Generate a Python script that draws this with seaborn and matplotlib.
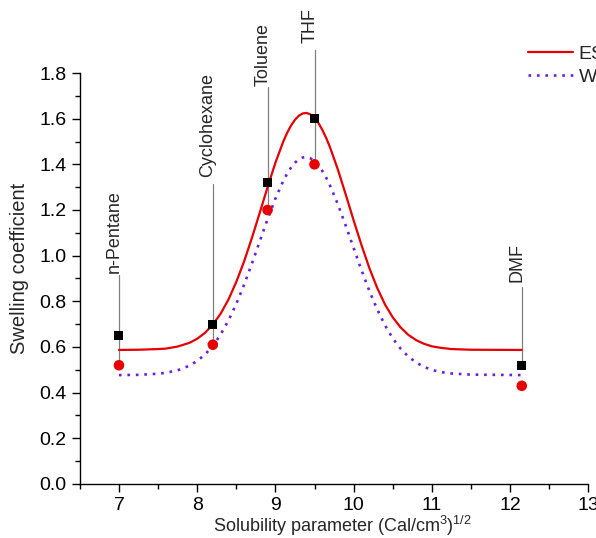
import numpy as np
import pandas as pd
import matplotlib
matplotlib.use("Agg")
import matplotlib.pyplot as plt
import seaborn as sns
from matplotlib.ticker import MultipleLocator, FormatStrFormatter

# measured points for each solvent
solvents = ["n-Pentane", "Cyclohexane", "Toluene", "THF", "DMF"]
solubility = [7.0, 8.2, 8.9, 9.5, 12.15]
swell_es = [0.65, 0.70, 1.32, 1.60, 0.52]
swell_w = [0.52, 0.61, 1.20, 1.40, 0.43]

# fitted curves
curve_x = [7.0, 7.25, 7.5, 7.6, 7.75, 7.9, 8.0, 8.1, 8.2, 8.3, 8.4, 8.5, 8.6, 8.7,
           8.8, 8.9, 9.0, 9.1, 9.15, 9.2, 9.25, 9.3, 9.35, 9.4, 9.45, 9.5, 9.55,
           9.6, 9.65, 9.7, 9.8, 9.9, 10.0, 10.1, 10.2, 10.3, 10.4, 10.5, 10.6,
           10.7, 10.8, 10.9, 11.0, 11.1, 11.25, 11.5, 12.15]
curve_es = [0.587, 0.588, 0.591, 0.593, 0.602, 0.618, 0.636, 0.662, 0.698, 0.746,
            0.808, 0.885, 0.975, 1.078, 1.188, 1.300, 1.407, 1.499, 1.538, 1.570,
            1.595, 1.613, 1.623, 1.625, 1.618, 1.603, 1.581, 1.551, 1.515, 1.473,
            1.376, 1.267, 1.155, 1.047, 0.947, 0.860, 0.787, 0.730, 0.686, 0.653,
            0.630, 0.614, 0.603, 0.597, 0.591, 0.588, 0.587]
curve_w = [0.477, 0.478, 0.483, 0.487, 0.498, 0.518, 0.539, 0.567, 0.605, 0.655,
           0.716, 0.789, 0.873, 0.966, 1.063, 1.160, 1.250, 1.327, 1.359, 1.386,
           1.407, 1.422, 1.430, 1.432, 1.426, 1.414, 1.396, 1.371, 1.341, 1.306,
           1.224, 1.131, 1.034, 0.937, 0.847, 0.766, 0.696, 0.638, 0.593, 0.558,
           0.532, 0.513, 0.500, 0.491, 0.484, 0.479, 0.477]

# leader lines and label heights for the solvent names
line_bottom = [0.52, 0.61, 1.20, 1.40, 0.52]
line_top = [0.915, 1.314, 1.739, 1.901, 0.863]
label_y = [0.924, 1.345, 1.743, 1.932, 0.885]

sns.set_theme(style="ticks")
plt.rcParams["font.family"] = ["Liberation Sans", "DejaVu Sans"]
plt.rcParams["mathtext.fontset"] = "custom"
plt.rcParams["mathtext.rm"] = "Liberation Sans"
plt.rcParams["mathtext.it"] = "Liberation Sans:italic"

fig = plt.figure(figsize=(5.96, 5.38), dpi=100)
ax = fig.add_axes([0.134, 0.1004, 0.853, 0.7639])

curves = pd.DataFrame({"x": curve_x, "ES": curve_es, "W": curve_w})
sns.lineplot(data=curves, x="x", y="ES", ax=ax, color="#e60000", lw=1.6, label="ES")
sns.lineplot(data=curves, x="x", y="W", ax=ax, color="#6a1fe0", lw=1.9,
             linestyle=(0, (1, 2.2)), label="W")

for xb, yb, yt in zip(solubility, line_bottom, line_top):
    ax.plot([xb, xb], [yb, yt], color="#808080", lw=0.9, zorder=1, clip_on=False)

pts = pd.DataFrame({"x": solubility, "es": swell_es, "w": swell_w})
sns.scatterplot(data=pts, x="x", y="es", ax=ax, marker="s", color="black",
                s=42, edgecolor="none", zorder=5, clip_on=False)
sns.scatterplot(data=pts, x="x", y="w", ax=ax, marker="o", color="#e60000",
                s=58, edgecolor="none", zorder=5, clip_on=False)

for name, xb, ly in zip(solvents, solubility, label_y):
    ax.annotate(name, xy=(xb, ly), xytext=(-3.5, 0), textcoords="offset points",
                rotation=90, ha="center", va="bottom", fontsize=13,
                annotation_clip=False)

ax.set_xlim(6.5, 13)
ax.set_ylim(0, 1.8)
ax.set_xticks(range(7, 14))
ax.xaxis.set_minor_locator(MultipleLocator(0.5))
ax.yaxis.set_major_locator(MultipleLocator(0.2))
ax.yaxis.set_minor_locator(MultipleLocator(0.1))
ax.yaxis.set_major_formatter(FormatStrFormatter("%.1f"))
ax.tick_params(which="major", direction="out", length=6, width=1, labelsize=14,
               color="black", labelcolor="black")
ax.tick_params(which="minor", direction="out", length=3.5, width=1, color="black")
for side in ["top", "right"]:
    ax.spines[side].set_visible(False)
for side in ["left", "bottom"]:
    ax.spines[side].set_color("black")
    ax.spines[side].set_linewidth(1)

ax.set_xlabel("Solubility parameter (Cal/cm$^3$)$^{1/2}$", fontsize=13)
ax.set_ylabel("Swelling coefficient", fontsize=14.5)
ax.xaxis.set_label_coords(0.516, -0.073)
ax.yaxis.set_label_coords(-0.100, 0.5255)

ax.legend(loc="upper left", bbox_to_anchor=(0.882, 1.068), frameon=False,
          borderpad=0, borderaxespad=0, fontsize=14, handlelength=2.3,
          handletextpad=0.3, labelspacing=0.3)

fig.savefig("out.png", dpi=100)
